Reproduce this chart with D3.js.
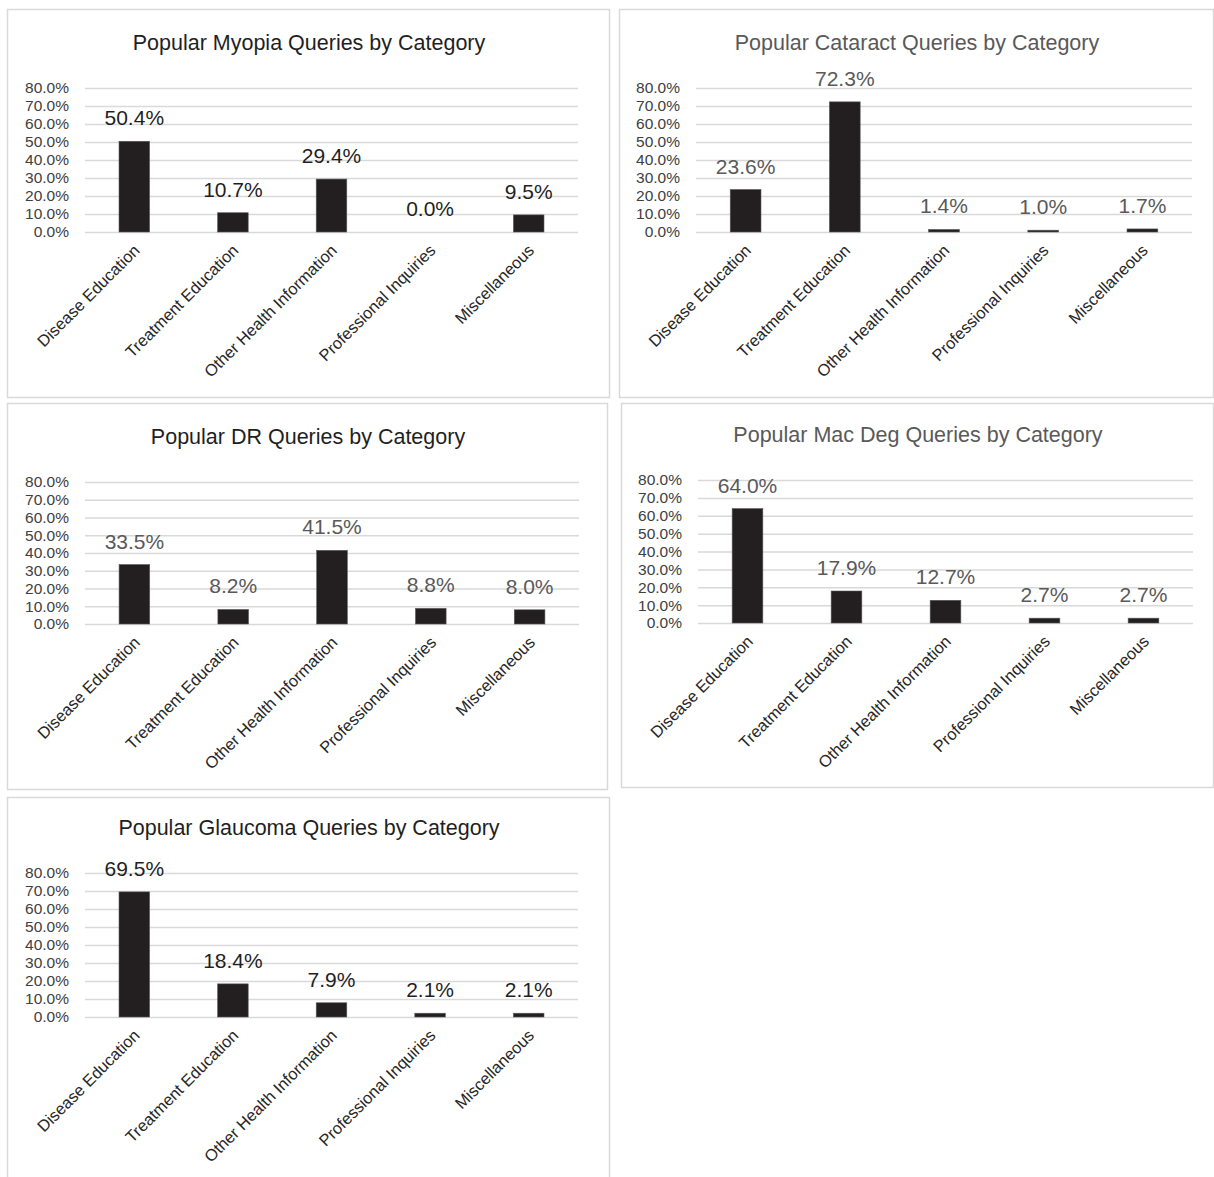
<!DOCTYPE html>
<html>
<head>
<meta charset="utf-8">
<script src="https://cdn.jsdelivr.net/npm/d3@7"></script>
<style>
  html, body { margin: 0; padding: 0; background: #ffffff; }
  svg { display: block; }
  text { font-family: "Liberation Sans", Arial, Helvetica, sans-serif; }
</style>
</head>
<body>
<svg id="chart" width="1214" height="1177"></svg>
<script>
// Query categories shared by every panel
const categories = [
  "Disease Education",
  "Treatment Education",
  "Other Health Information",
  "Professional Inquiries",
  "Miscellaneous"
];

// Share of popular queries (%) per category
const myopiaValues   = [50.4, 10.7, 29.4, 0.0, 9.5];
const cataractValues = [23.6, 72.3, 1.4, 1.0, 1.7];
const drValues       = [33.5, 8.2, 41.5, 8.8, 8.0];
const macDegValues   = [64.0, 17.9, 12.7, 2.7, 2.7];
const glaucomaValues = [69.5, 18.4, 7.9, 2.1, 2.1];

// Value-axis ticks
const yTicks = [0, 10, 20, 30, 40, 50, 60, 70, 80];

const titles = [
  "Popular Myopia Queries by Category",
  "Popular Cataract Queries by Category",
  "Popular DR Queries by Category",
  "Popular Mac Deg Queries by Category",
  "Popular Glaucoma Queries by Category"
];

const seriesList = [myopiaValues, cataractValues, drValues, macDegValues, glaucomaValues];

// Panel frames and plot areas (page coordinates)
const layout = [
  { box: [7, 9, 602, 388],   titleY: 50,  plot: { x0: 85,  x1: 578,  yTop: 88,  yBot: 232 },  titleColor: "#1f1f1f", labelColor: "#1f1f1f" },
  { box: [619, 9, 594, 388], titleY: 50,  plot: { x0: 696, x1: 1192, yTop: 88,  yBot: 232 },  titleColor: "#595959", labelColor: "#595959" },
  { box: [7, 403, 600, 386], titleY: 444, plot: { x0: 85,  x1: 579,  yTop: 482, yBot: 624 },  titleColor: "#1f1f1f", labelColor: "#595959" },
  { box: [621, 403, 592, 384], titleY: 442, plot: { x0: 698, x1: 1193, yTop: 480, yBot: 623 }, titleColor: "#595959", labelColor: "#595959" },
  { box: [7, 797, 602, 384], titleY: 835, plot: { x0: 85,  x1: 578,  yTop: 873, yBot: 1017 }, titleColor: "#1f1f1f", labelColor: "#1f1f1f" }
];

const pct = v => d3.format(".1f")(v) + "%";
const svg = d3.select("#chart");

seriesList.forEach((values, i) => {
  const L = layout[i];
  const g = svg.append("g");
  const [bx, by, bw, bh] = L.box;

  // chart frame
  g.append("rect")
    .attr("x", bx + 0.5).attr("y", by + 0.5)
    .attr("width", bw).attr("height", bh)
    .attr("fill", "#ffffff")
    .attr("stroke", "#d9d9d9")
    .attr("stroke-width", 1.5);

  // title
  g.append("text")
    .attr("x", bx + bw / 2 + 1)
    .attr("y", L.titleY)
    .attr("text-anchor", "middle")
    .attr("font-size", 21.5)
    .attr("fill", L.titleColor)
    .text(titles[i]);

  const x = d3.scaleBand()
    .domain(categories)
    .range([L.plot.x0, L.plot.x1])
    .paddingInner(0.69)
    .paddingOuter(0.345);

  const y = d3.scaleLinear()
    .domain([0, 80])
    .range([L.plot.yBot, L.plot.yTop]);

  // gridlines + value labels on the left
  const yAxis = d3.axisLeft(y)
    .tickValues(yTicks)
    .tickFormat(pct)
    .tickSize(-(L.plot.x1 - L.plot.x0))
    .tickPadding(16);

  const ya = g.append("g")
    .attr("transform", `translate(${L.plot.x0},0)`)
    .call(yAxis);
  ya.select(".domain").remove();
  ya.selectAll(".tick line")
    .attr("stroke", "#d9d9d9")
    .attr("stroke-width", 1.5);
  ya.selectAll(".tick text")
    .attr("font-size", 15.5)
    .attr("fill", "#404040")
    .attr("font-family", '"Liberation Sans", Arial, sans-serif');

  // category labels, rotated
  const xAxis = d3.axisBottom(x).tickSize(0).tickPadding(0);
  const xa = g.append("g")
    .attr("transform", `translate(0,${L.plot.yBot})`)
    .call(xAxis);
  xa.select(".domain").remove();
  xa.selectAll(".tick text")
    .attr("font-size", 16.4)
    .attr("fill", "#262626")
    .attr("font-family", '"Liberation Sans", Arial, sans-serif')
    .attr("text-anchor", "end")
    .attr("y", 0)
    .attr("transform", "translate(-4,9) rotate(-45)")
    .attr("dy", "0.9em");

  // bars
  g.selectAll("rect.bar")
    .data(values)
    .join("rect")
    .attr("class", "bar")
    .attr("x", (d, j) => x(categories[j]))
    .attr("width", x.bandwidth())
    .attr("y", d => y(d))
    .attr("height", d => y(0) - y(d))
    .attr("fill", "#231f20")
    .attr("stroke", "#595959")
    .attr("stroke-width", 0.6);

  // value labels above each bar
  g.selectAll("text.val")
    .data(values)
    .join("text")
    .attr("class", "val")
    .attr("x", (d, j) => x(categories[j]) + x.bandwidth() / 2)
    .attr("y", d => y(d) - 16)
    .attr("text-anchor", "middle")
    .attr("font-size", 21)
    .attr("fill", L.labelColor)
    .text(pct);
});
</script>
</body>
</html>
